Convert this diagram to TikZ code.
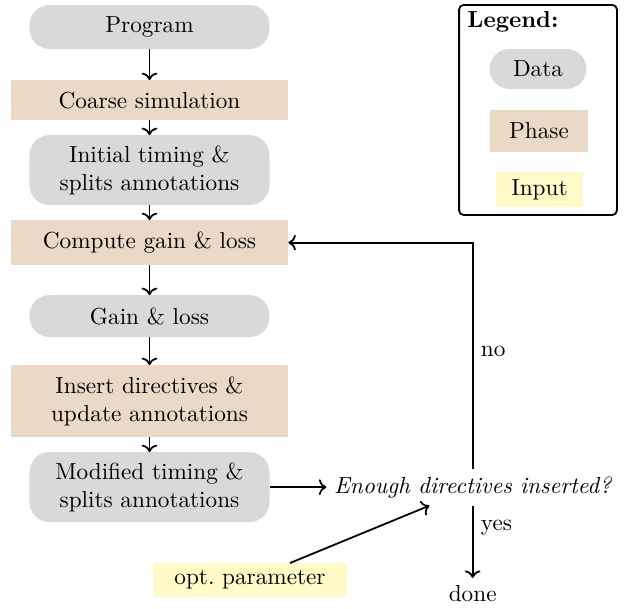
\documentclass[tikz,border=0pt]{standalone}
\usepackage{tikz}
\usetikzlibrary{arrows.meta,positioning,calc}
\definecolor{datagray}{HTML}{D9D9D9}
\definecolor{phasetan}{HTML}{EAD9C6}
\definecolor{inputyellow}{HTML}{FFFAC8}

\begin{document}
\begin{tikzpicture}[
 x=0.45pt,y=0.45pt,
 every node/.style={font=\fontsize{10.45pt}{12.6pt}\selectfont},
 data/.style={fill=datagray,rounded corners=9pt,minimum width=108pt,outer sep=0pt,align=center},
 phase/.style={fill=phasetan,minimum width=125pt,outer sep=0pt,align=center},
 inp/.style={fill=inputyellow,outer sep=0pt,align=center},
 arr/.style={->,thick}
]
\useasboundingbox (0,0) rectangle (624,-608);
% main flow
\node[data,minimum height=19.8pt] (prog) at (149.5,-27) {Program};
\node[phase,minimum height=18pt,below=14pt of prog] (coarse) {Coarse simulation};
\node[data,minimum height=31.5pt,below=6.75pt of coarse] (init) {Initial timing \&\\splits annotations};
\node[phase,minimum height=20.25pt,below=6.75pt of init] (compute) {Compute gain \& loss};
\node[data,minimum height=18.9pt,below=13.5pt of compute] (gain) {Gain \& loss};
\node[phase,minimum height=32.4pt,below=12.6pt of gain] (insert) {Insert directives \&\\update annotations};
\node[data,minimum height=31.5pt,below=6.75pt of insert] (modif) {Modified timing \&\\splits annotations};
\node[right=25.6pt of modif] (enough) {\itshape Enough directives inserted?};
\node[below=32.5pt of enough] (done) {done};
\node[inp,minimum width=87.3pt,minimum height=15.3pt] (param) at (250,-580) {opt.\ parameter};
\draw[arr] (prog)--(coarse); \draw[arr] (coarse)--(init); \draw[arr] (init)--(compute);
\draw[arr] (compute)--(gain); \draw[arr] (gain)--(insert); \draw[arr] (insert)--(modif);
\draw[arr] (modif)--(enough);
\draw[arr] (enough.north) |- node[pos=0.26,right]{no} (compute.east);
\draw[arr] (enough.south)--node[pos=0.3,right]{yes}(done.north);
\draw[arr] ([xshift=18pt]param.north)--([xshift=-19.5pt]enough.south);
% legend
\node[draw,thick,rounded corners=2pt,minimum width=71pt,minimum height=94.5pt] (legend) at (538,-110) {};
\node[anchor=west,inner sep=0pt] (lgtitle) at (467,-22) {\bfseries Legend:};
\node[data,minimum width=43.7pt,minimum height=18pt] (lgdata) at (538,-69) {Data};
\node[phase,minimum width=44pt,minimum height=19pt] (lgphase) at (539,-131) {Phase};
\node[inp,minimum width=39pt,minimum height=15.75pt] (lginput) at (539.5,-189.5) {Input};
\end{tikzpicture}
\end{document}
